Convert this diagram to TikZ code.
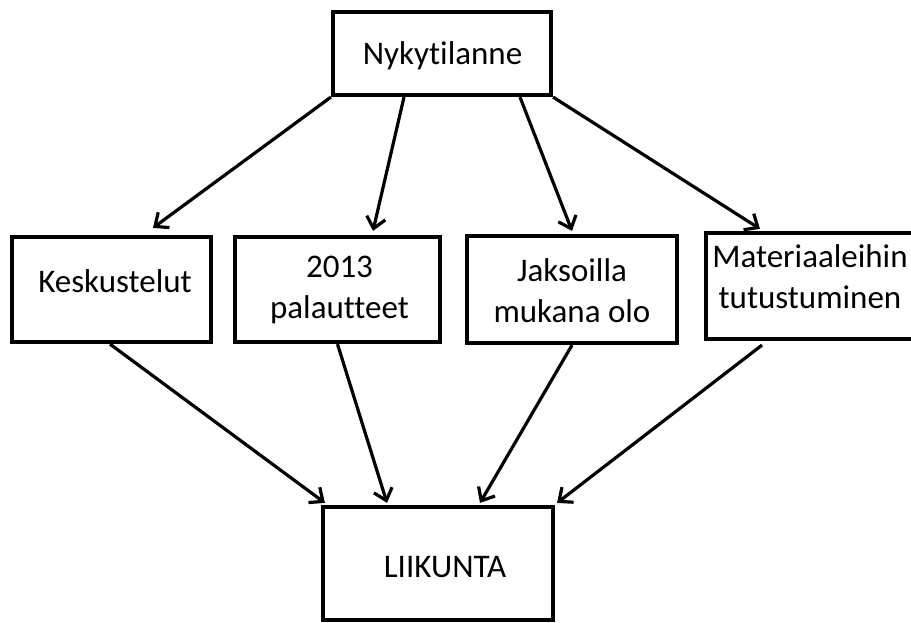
\documentclass[tikz,border=0pt]{standalone}
\usepackage{fontspec}
\setmainfont[Ligatures=NoCommon]{Carlito}
\usetikzlibrary{arrows.meta}
\begin{document}
\begin{tikzpicture}[x=1pt,y=-1pt,
  box/.style={draw,line width=4.2pt,inner sep=0pt,rectangle},
  txt/.style={inner sep=0pt,font=\fontsize{33}{41}\selectfont,align=center},
  arr/.style={line width=3.2pt,-{Straight Barb[length=11pt,width=19pt]}}]
  \useasboundingbox (0,0) rectangle (911,623);
  \clip (0,0) rectangle (911,623);
  % boxes
  \node[box,minimum width=218pt,minimum height=83pt]  (top)  at (442,53.5)  {};
  \node[box,minimum width=199pt,minimum height=105pt] (kesk) at (111.5,289.5) {};
  \node[box,minimum width=205pt,minimum height=105pt] (pal)  at (337.5,289.5) {};
  \node[box,minimum width=210pt,minimum height=107pt] (jaks) at (572,289.5) {};
  \node[box,minimum width=230pt,minimum height=106pt] (mat)  at (821,286) {};
  \node[box,minimum width=230pt,minimum height=113pt] (liik) at (438,563.5) {};
  % labels
  \node[txt,anchor=base] (topt)  at (442.5,65) {Nykytilanne};
  \node[txt,anchor=base] (kesktx) at (115,292) {Keskustelut};
  \node[txt] (palt)  at (339.5,290) {2013\\palautteet};
  \node[txt] (jakst) at (572,290.5) {Jaksoilla\\mukana olo};
  \node[txt] (matt)  at (810,276.5) {Materiaaleihin\\tutustuminen};
  \node[txt,anchor=base] (liikt) at (445,577) {LIIKUNTA};
  % connectors from the top box
  \draw[arr] (top.south west) -- ([xshift=41.5pt,yshift=7pt]kesk.north);
  \draw[arr] ([xshift=-38pt]top.south) -- ([xshift=35.5pt,yshift=4pt]pal.north);
  \draw[arr] ([xshift=78pt]top.south) -- ([yshift=3pt]jaks.north);
  \draw[arr] (top.south east) -- ([xshift=-61pt,yshift=2pt]mat.north);
  % connectors into the bottom box
  \draw[arr] ([xshift=-1.5pt]kesk.south) -- ([xshift=4pt,yshift=2pt]liik.north west);
  \draw[arr] (pal.south) -- ([xshift=-51pt,yshift=2pt]liik.north);
  \draw[arr] (jaks.south) -- ([xshift=42pt,yshift=2pt]liik.north);
  \draw[arr] ([xshift=-59pt,yshift=-4pt]mat.south) -- ([xshift=2pt,yshift=2pt]liik.north east);
\end{tikzpicture}
\end{document}
